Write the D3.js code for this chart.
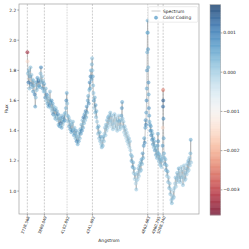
<!DOCTYPE html>
<html>
<head>
<meta charset="utf-8">
<script src="https://cdn.jsdelivr.net/npm/d3@7"></script>
<style>
  html, body { margin: 0; padding: 0; background: #fff; }
  svg { display: block; font-family: "DejaVu Sans", sans-serif; }
</style>
</head>
<body>
<div id="chart"></div>
<script>
// wavelength (Angstrom) of each spectrum sample
const wave = [
  3729,3731,3735,3739,3743,3748,3753,3758,3763,3768,3773,3778,3783,3788,
  3793,3798,3803,3808,3813,3818,3823,3828,3833,3838,
  3843,3848,3853,3857,3862,3867,3872,3877,3882,3887,
  3892,3897,3902,3907,3912,3917,3922,3927,3932,3937,3942,3947,
  3952,3957,3962,3967,3972,3977,3982,3987,3992,3997,4002,
  4007,4012,4017,4022,4027,4032,4037,4042,4047,4052,4057,4062,4067,4072,4077,4082,4087,
  4092,4096,4100,4104,4108,4113,
  4118,4123,4128,4133,4138,4143,4148,4153,4158,4163,4168,4173,4178,
  4183,4188,4193,4198,4203,4208,4213,4218,4223,4228,
  4233,4238,4243,4248,4253,4258,4263,4268,4273,4278,4283,4288,4293,4298,
  4302,4307,4312,4316,4320,4324,4328,4332,4336,4339,4342,4345,4348,
  4352,4356,4360,4364,4368,4372,4376,4380,4385,4390,
  4395,4400,4405,4410,4415,4420,4425,4430,4435,4440,4445,4450,
  4455,4460,4465,4470,4475,4480,4485,4490,4495,4500,4505,4510,
  4515,4520,4525,4530,4535,4540,4545,4550,4555,4560,4565,4570,4575,4580,4585,4590,4595,4600,
  4605,4610,4615,4619,4622,4626,4630,4635,4640,4645,4650,4655,4660,4665,4670,4675,4680,4685,4690,4695,4700,
  4705,4710,4715,4720,4725,4730,4735,4740,4745,4750,4755,4760,
  4765,4770,4775,4780,4785,4790,4795,4800,4805,4810,4815,4820,4825,4830,4835,4840,
  4843,4846,4849,4852,4854,4856,4858,4860,4862,4864,4866,4868,4870,4872,4874,4877,4880,
  4884,4888,4892,4896,4900,4904,4908,4912,4916,4920,4925,4930,4935,4940,4945,4950,4955,
  4957,4959,4961,4964,4968,4972,4976,4980,4984,4988,4992,4996,5000,
  5003,5005,5007,5008,5009,5011,5013,5016,
  5020,5025,5030,5035,5040,5045,5050,5055,5060,5065,5070,5075,5080,
  5085,5090,5095,5100,5105,5110,5115,
  5120,5125,5130,5135,5140,5145,5150,5155,5160,5165,5170,5175,5180,5185,5190,5195,5200,5205,5210,5215,
  5220,5225,5230,5235,5240,5245,5250,5255,5260,5265,5268,5271
];
// flux
const flux = [
  1.92,1.86,1.78,1.72,1.80,1.68,1.76,1.82,1.71,1.77,1.69,1.74,1.66,1.73,
  1.70,1.64,1.56,1.62,1.72,1.67,1.75,1.69,1.73,1.70,
  1.74,1.69,1.78,1.82,1.72,1.76,1.68,1.73,1.66,1.71,
  1.66,1.62,1.68,1.60,1.64,1.58,1.63,1.56,1.61,1.57,1.66,1.59,
  1.55,1.60,1.53,1.58,1.51,1.56,1.50,1.54,1.48,1.55,1.50,
  1.53,1.47,1.51,1.44,1.49,1.43,1.48,1.45,1.50,1.42,1.47,1.44,1.49,1.46,1.51,1.47,1.52,
  1.55,1.60,1.65,1.58,1.50,1.46,
  1.49,1.43,1.47,1.41,1.45,1.39,1.44,1.40,1.46,1.41,1.37,1.42,1.38,
  1.35,1.40,1.33,1.37,1.31,1.36,1.33,1.39,1.35,1.41,
  1.38,1.44,1.40,1.47,1.42,1.49,1.45,1.51,1.47,1.53,1.49,1.56,1.52,1.60,
  1.63,1.58,1.67,1.72,1.68,1.76,1.80,1.74,1.84,1.88,1.80,1.76,1.70,
  1.65,1.60,1.55,1.62,1.52,1.57,1.49,1.53,1.46,1.42,
  1.38,1.43,1.35,1.39,1.33,1.36,1.31,1.29,1.34,1.30,1.36,1.33,
  1.38,1.42,1.37,1.44,1.40,1.47,1.42,1.49,1.44,1.50,1.46,1.52,
  1.47,1.43,1.50,1.45,1.41,1.48,1.44,1.51,1.46,1.42,1.49,1.45,1.40,1.47,1.43,1.50,1.46,1.41,
  1.47,1.43,1.50,1.55,1.59,1.48,1.42,1.46,1.39,1.43,1.37,1.41,1.35,1.39,1.33,1.37,1.31,1.35,1.29,1.33,1.27,
  1.24,1.20,1.23,1.16,1.19,1.12,1.15,1.08,1.11,1.05,1.01,1.07,
  1.12,1.08,1.15,1.10,1.17,1.13,1.19,1.14,1.21,1.18,1.25,1.22,1.30,1.35,1.32,1.42,
  1.47,1.44,1.52,1.60,1.68,1.80,1.92,2.05,2.13,2.05,1.94,1.82,1.72,1.64,1.55,1.50,1.46,
  1.44,1.40,1.43,1.37,1.40,1.34,1.38,1.31,1.35,1.29,1.33,1.27,1.30,1.24,1.28,1.22,1.26,
  1.30,1.38,1.33,1.25,1.20,1.24,1.18,1.22,1.17,1.21,1.16,1.20,1.23,
  1.30,1.42,1.56,1.67,1.60,1.48,1.35,1.25,
  1.22,1.18,1.21,1.14,1.17,1.10,1.13,1.06,1.09,1.02,1.05,0.98,1.01,
  0.94,0.92,0.97,0.95,1.00,0.96,1.02,
  1.05,1.09,1.03,1.08,1.12,1.06,1.10,1.15,1.08,1.13,1.06,1.11,1.16,1.09,1.14,1.04,1.10,1.17,1.07,1.12,
  1.08,1.15,1.11,1.18,1.13,1.20,1.14,1.22,1.17,1.25,1.34,1.19
];
// colour-coding value of each sample, in units of 1e-4
const coding = [
  -33,-15,3,10,4,2,5,3,8,2,4,1,6,3,
  4,9,6,2,5,3,7,2,11,4,
  3,5,2,9,4,2,6,3,1,5,
  2,6,3,1,8,4,2,5,3,7,2,4,
  3,7,2,5,9,3,1,6,4,2,3,
  5,2,8,3,1,6,4,10,2,5,3,1,7,4,2,6,3,
  4,8,5,2,3,1,
  2,5,3,6,1,4,2,7,3,1,5,2,4,
  3,6,9,2,4,1,5,3,2,4,
  6,3,8,2,5,10,3,6,2,9,4,7,3,5,
  4,7,3,8,5,9,4,6,3,2,1,5,3,
  2,5,1,4,3,6,2,4,1,3,
  2,4,1,3,2,5,1,3,0,2,4,1,
  0,2,1,3,0,2,1,4,0,2,1,3,
  1,-1,2,0,1,-2,0,2,-1,1,0,-2,1,3,-1,0,2,1,
  3,1,5,7,6,2,0,1,-1,2,0,1,-2,0,1,-1,0,2,-1,1,0,
  3,5,2,6,4,1,3,0,2,-1,1,0,
  1,-1,2,0,3,1,4,2,5,3,6,4,7,5,8,6,
  7,9,6,8,5,7,4,6,5,3,6,4,7,5,8,6,4,
  6,9,5,8,4,7,3,6,5,2,4,6,3,5,2,4,3,
  5,4,7,3,2,4,1,3,0,2,1,3,2,
  6,-15,12,-25,14,8,5,4,
  4,6,2,5,3,1,4,2,0,3,1,2,0,
  1,3,0,2,-1,1,2,
  0,2,-1,1,3,0,2,4,1,0,2,-1,1,3,0,2,-1,1,0,2,
  1,3,0,2,1,4,0,2,1,3,5,1
];
// marked lines
const lineWaves = [3728.568, 3889.049, 4102.892, 4341.692, 4862.683, 4960.295, 5008.240];
const lineLabels = ["3728.568", "3889.049", "4102.892", "4341.692", "4862.683", "4960.295", "5008.240"];
const lineLight = [false, false, true, false, true, false, false];
const yTicks = [1.0, 1.2, 1.4, 1.6, 1.8, 2.0, 2.2];
const cbTicks = [0.001, 0.000, -0.001, -0.002, -0.003];

const W = 249, H = 249;
const fs = 4.4;
const svg = d3.select("#chart").append("svg").attr("width", W).attr("height", H);
svg.append("rect").attr("width", W).attr("height", H).attr("fill", "#fff");

const x = d3.scaleLinear().domain([3650, 5346]).range([19, 199]);
const y = d3.scaleLinear().domain([0.848, 2.24]).range([214, 4]);
const codeMin = -0.00364, codeMax = 0.00172;
const color = v => d3.interpolateRdBu((v - codeMin) / (codeMax - codeMin));

const pts = wave.map((w, i) => ({w: w, f: flux[i], c: coding[i] * 1e-4}));

// vertical marker lines
svg.selectAll("line.mark").data(lineWaves).enter().append("line")
  .attr("x1", d => x(d)).attr("x2", d => x(d))
  .attr("y1", 4).attr("y2", 214)
  .attr("stroke", (d, i) => lineLight[i] ? "#c8c8c8" : "#9a9a9a")
  .attr("stroke-width", (d, i) => lineLight[i] ? 0.9 : 0.5)
  .attr("stroke-dasharray", (d, i) => lineLight[i] ? "0.8,0.8" : "2,1.2");

// spectrum line
svg.append("path").datum(pts)
  .attr("d", d3.line().x(d => x(d.w)).y(d => y(d.f)))
  .attr("fill", "none").attr("stroke", "#999")
  .attr("stroke-opacity", 0.65).attr("stroke-width", 0.8);

// colour coded points
svg.selectAll("circle.pt").data(pts).enter().append("circle")
  .attr("cx", d => x(d.w)).attr("cy", d => y(d.f)).attr("r", 1.7)
  .attr("fill", d => color(d.c)).attr("fill-opacity", 0.5)
  .attr("stroke", d => color(d.c)).attr("stroke-opacity", 0.55).attr("stroke-width", 0.4);

// frame
svg.append("rect").attr("x", 19).attr("y", 4).attr("width", 180).attr("height", 210)
  .attr("fill", "none").attr("stroke", "#a0a0a0").attr("stroke-width", 0.7);

// y axis
const ya = svg.append("g");
yTicks.forEach(t => {
  ya.append("line").attr("x1", 17.3).attr("x2", 19).attr("y1", y(t)).attr("y2", y(t))
    .attr("stroke", "#555").attr("stroke-width", 0.5);
  ya.append("text").attr("x", 16.3).attr("y", y(t)).attr("dy", "0.35em")
    .attr("text-anchor", "end").attr("font-size", fs).attr("fill", "#222")
    .text(t.toFixed(1));
});
svg.append("text").attr("transform", "translate(7.5,109) rotate(-90)")
  .attr("text-anchor", "middle").attr("font-size", fs).attr("fill", "#222").text("Flux");

// x labels at the marker lines
lineWaves.forEach((d, i) => {
  svg.append("line").attr("x1", x(d)).attr("x2", x(d)).attr("y1", 214).attr("y2", 215.7)
    .attr("stroke", "#555").attr("stroke-width", 0.5);
  svg.append("text")
    .attr("transform", `translate(${x(d) + 2.6},216.8) rotate(-70)`)
    .attr("text-anchor", "end").attr("font-size", 3.9).attr("fill", "#222")
    .text(lineLabels[i]);
});
svg.append("text").attr("x", 109).attr("y", 242).attr("text-anchor", "middle")
  .attr("font-size", fs).attr("fill", "#222").text("Angstrom");

// legend
const lg = svg.append("g");
lg.append("rect").attr("x", 148.3).attr("y", 6.7).attr("width", 49.5).attr("height", 15.5)
  .attr("rx", 1.2).attr("fill", "#fff").attr("fill-opacity", 0.8)
  .attr("stroke", "#d8d8d8").attr("stroke-width", 0.5);
lg.append("line").attr("x1", 151.5).attr("x2", 160.5).attr("y1", 11).attr("y2", 11)
  .attr("stroke", "#c8c8c8").attr("stroke-width", 1.2).attr("stroke-opacity", 0.8);
lg.append("text").attr("x", 163).attr("y", 11).attr("dy", "0.35em")
  .attr("font-size", fs).attr("fill", "#222").text("Spectrum");
lg.append("circle").attr("cx", 156).attr("cy", 17.7).attr("r", 1.6)
  .attr("fill", color(0.0006)).attr("fill-opacity", 0.7)
  .attr("stroke", color(0.0006)).attr("stroke-width", 0.4);
lg.append("text").attr("x", 163).attr("y", 17.7).attr("dy", "0.35em")
  .attr("font-size", fs).attr("fill", "#222").text("Color Coding");

// colour bar
const cb = d3.scaleLinear().domain([codeMin, codeMax]).range([215, 4.7]);
const nSteps = 120;
const stepVals = d3.range(nSteps).map(i => codeMin + (i + 0.5) * (codeMax - codeMin) / nSteps);
const stepH = (215 - 4.7) / nSteps;
svg.append("g").selectAll("rect").data(stepVals).enter().append("rect")
  .attr("x", 210).attr("width", 10.7)
  .attr("y", d => cb(d) - stepH / 2).attr("height", stepH + 0.3)
  .attr("fill", d => color(d)).attr("fill-opacity", 0.75);
svg.append("rect").attr("x", 210).attr("y", 4.7).attr("width", 10.7).attr("height", 210.3)
  .attr("fill", "none").attr("stroke", "#a0a0a0").attr("stroke-width", 0.5);
cbTicks.forEach(t => {
  svg.append("line").attr("x1", 220.7).attr("x2", 222.4).attr("y1", cb(t)).attr("y2", cb(t))
    .attr("stroke", "#555").attr("stroke-width", 0.5);
  svg.append("text").attr("x", 223.2).attr("y", cb(t)).attr("dy", "0.35em")
    .attr("font-size", fs).attr("fill", "#222")
    .text(t.toFixed(3).replace("-", "\u2212"));
});
</script>
</body>
</html>
